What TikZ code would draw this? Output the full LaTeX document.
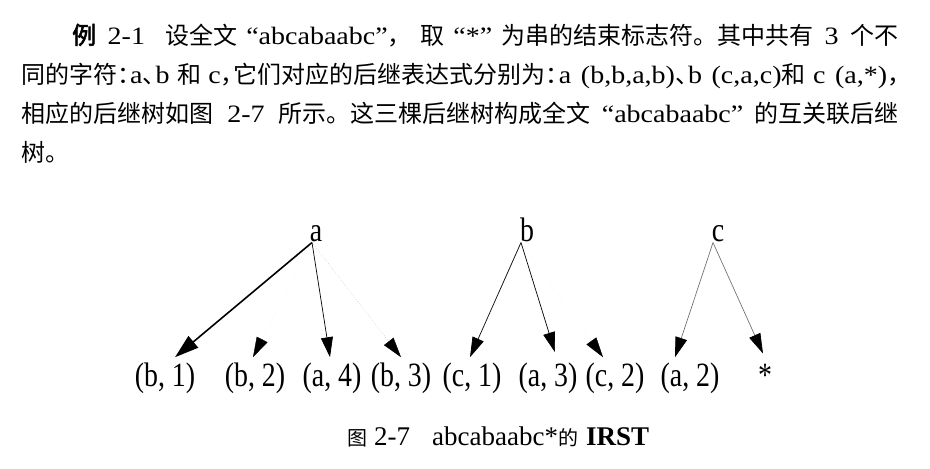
\documentclass[tikz,border=0pt]{standalone}
\usepackage{fontspec}
\setmainfont{Noto Sans CJK SC}
\XeTeXlinebreaklocale "zh"
\XeTeXlinebreakskip=0pt plus 6pt
\newfontfamily\zhbold[FakeBold=2.5]{Noto Sans CJK SC}
\newfontfamily\latfont[FakeStretch=0.82]{Liberation Serif}
\newfontfamily\bodyfont[FakeStretch=1.12]{Liberation Serif}
\newfontfamily\capfont{Liberation Serif}
\usetikzlibrary{arrows.meta}
\tikzstyle{txt}=[anchor=base west, inner sep=0pt, font=\fontsize{24}{24}\selectfont]
\tikzstyle{root}=[anchor=base, inner sep=1pt, font=\latfont\fontsize{34}{34}\selectfont]
\tikzstyle{leaf}=[anchor=base, inner sep=1pt, font=\latfont\fontsize{34}{34}\selectfont]
\tikzstyle{succ}=[line width=0.7pt, -{Triangle[length=20pt,width=12pt]}]
\tikzstyle{faint}=[draw=black!15, dotted, -{Triangle[length=20pt,width=12pt,color=black]}]
\newcommand{\lt}[1]{{\bodyfont\fontsize{25}{25}\selectfont #1}}
\newcommand{\hp}[1]{\makebox[13pt][l]{#1}}

\begin{document}
\begin{tikzpicture}[x=1pt,y=-1pt]
 \useasboundingbox (0,0) rectangle (930,469);
%
 \node[txt] (l1) at (72,44) {\makebox[826pt][s]{{\zhbold 例}\lt{ 2-1 } 设全文 \lt{“abcabaabc”}， 取 \lt{“*”} 为串的结束标志符。其中共有\lt{ 3 }个不}};
 \node[txt] (l2) at (21,83) {\makebox[879pt][s]{同的字符\hp{：}\lt{a}\hp{、}\lt{b} 和 \lt{c}\hp{，}它们对应的后继表达式分别为\hp{：}\lt{a (b,b,a,b)}\hp{、}\lt{b (c,a,c)}和 \lt{c (a,*)}\hp{，}}};
 \node[txt] (l3) at (21,122) {\makebox[877pt][s]{相应的后继树如图\lt{ 2-7 }所示。这三棵后继树构成全文 \lt{“abcabaabc”} 的互关联后继}};
 \node[txt] (l4) at (21,161) {树。};
%
 \node[root] (ra) at (316,241) {a};
 \node[root] (rb) at (527,241) {b};
 \node[root] (rc) at (718,241) {c};
%
 \node[leaf] (b1) at (165,386) {(b, 1)};
 \node[leaf] (b2) at (255,386) {(b, 2)};
 \node[leaf] (a4) at (332,386) {(a, 4)};
 \node[leaf] (b3) at (401,386) {(b, 3)};
 \node[leaf] (c1) at (472,386) {(c, 1)};
 \node[leaf] (a3) at (548,386) {(a, 3)};
 \node[leaf] (c2) at (615,386) {(c, 2)};
 \node[leaf] (a2) at (690,386) {(a, 2)};
 \node[leaf] (st) at (765,386) {*};
%
 \draw[succ, line width=1.6pt, -{Triangle[length=24pt,width=15pt]}] ([xshift=-4pt]ra.south) -- ([xshift=10pt,yshift=4pt]b1.north);
 \draw[faint, draw=black!8] ([xshift=-4pt]ra.south) -- ([xshift=-2pt,yshift=4pt]b2.north);
 \draw[succ] ([xshift=-4pt]ra.south) -- ([xshift=-2pt,yshift=4pt]a4.north);
 \draw[faint, draw=black!40] ([xshift=-4pt]ra.south) -- ([yshift=4pt]b3.north);
%
 \draw[succ] ([xshift=-6pt]rb.south) -- ([xshift=-2pt,yshift=4pt]c1.north);
 \draw[succ] ([xshift=-6pt]rb.south) -- ([xshift=7pt,yshift=9pt]a3.north);
 \draw[faint, draw=black!8] ([xshift=-6pt]rb.south) -- ([xshift=-12pt,yshift=4pt]c2.north);
%
 \draw[succ, draw=black!55, -{Triangle[length=20pt,width=12pt,color=black]}] ([xshift=-5pt]rc.south) -- ([xshift=-15pt,yshift=4pt]a2.north);
 \draw[succ, draw=black!55, -{Triangle[length=20pt,width=12pt,color=black]}] ([xshift=-5pt]rc.south) -- ([xshift=-2pt,yshift=9pt]st.north);
%
 \node[anchor=base west, inner sep=0pt, font=\fontsize{20}{20}\selectfont] (cap) at (347,445) {图\hspace{7pt}{\capfont\fontsize{27}{27}\selectfont 2-7\hspace{22pt}abcabaabc*}的\hspace{8pt}{\capfont\fontsize{27}{27}\selectfont\bfseries IRST}};
\end{tikzpicture}
\end{document}
